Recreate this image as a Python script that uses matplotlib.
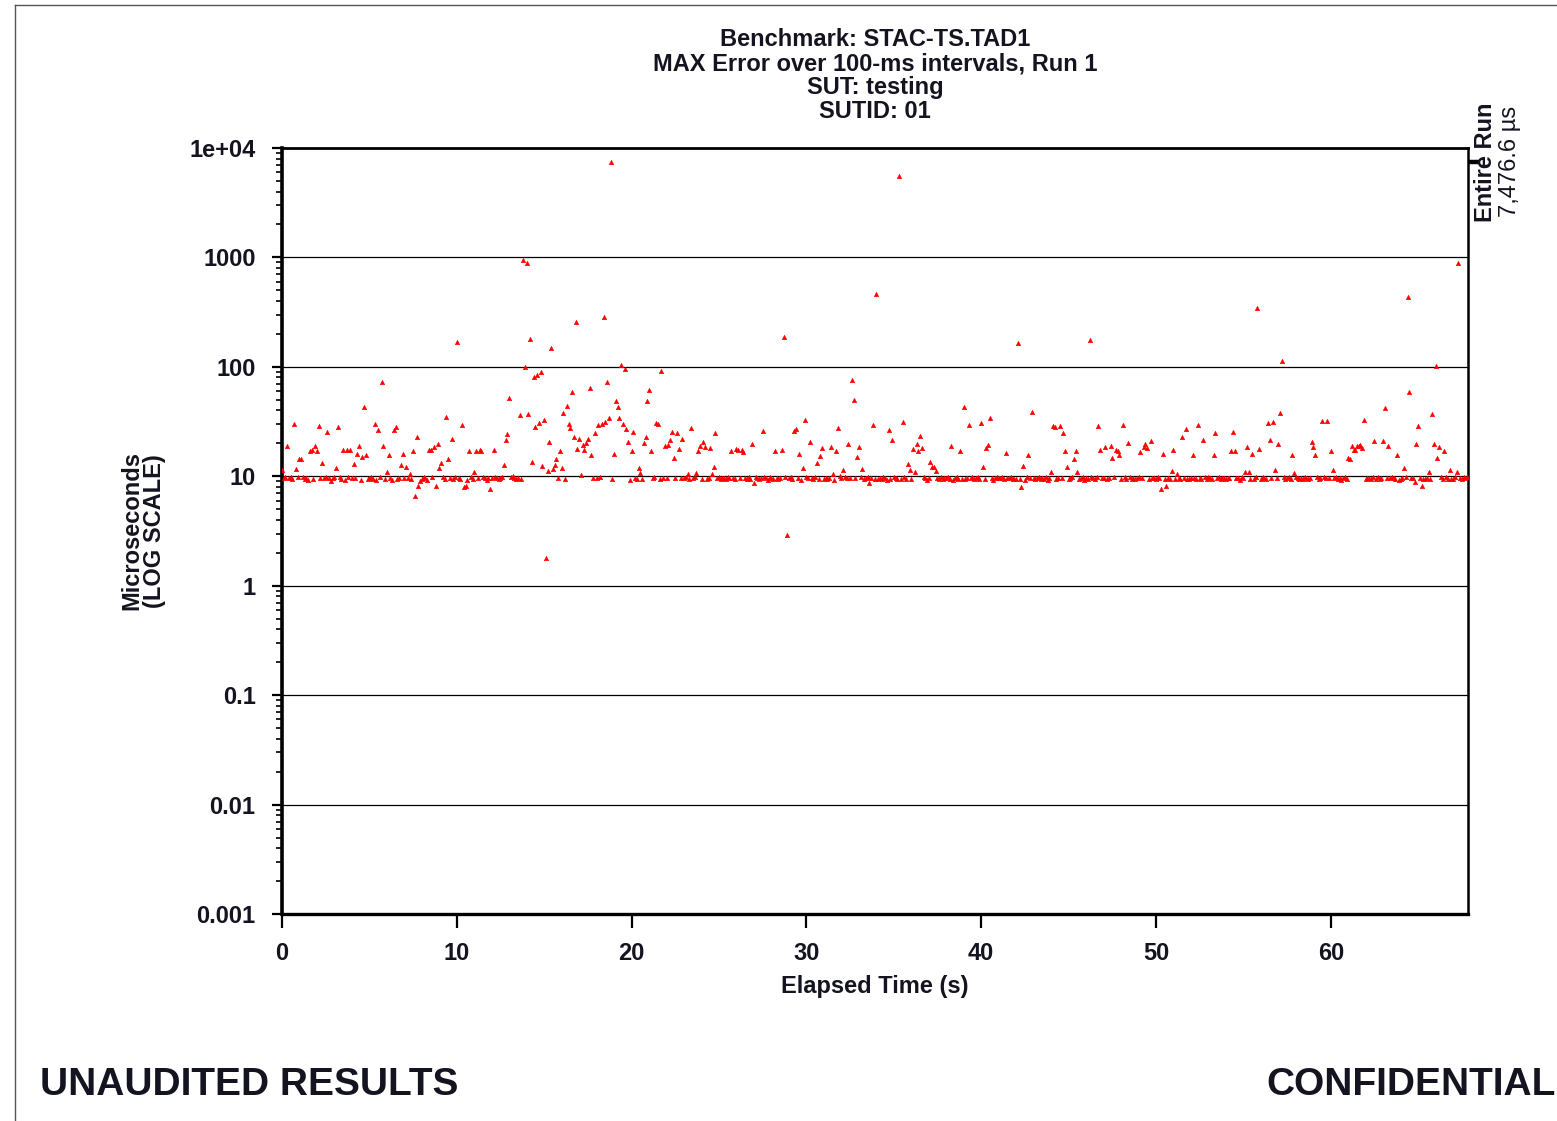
import numpy as np
import matplotlib
matplotlib.use("Agg")
import matplotlib.pyplot as plt
import matplotlib.transforms as mtransforms
from matplotlib.lines import Line2D
from matplotlib.ticker import FixedLocator, FixedFormatter, LogLocator, NullFormatter

plt.rcParams['font.family'] = ['Liberation Sans', 'DejaVu Sans']
plt.rcParams['font.weight'] = 'bold'

INK = "#141420"
INTERVAL_S = 0.1
N_INTERVALS = 679

# max error (us) of the ordinary 100-ms intervals, one row per second
base_err = [
    11.4, 9.6, 9.8, 9.4, 9.7, 9.9, 9.5, 9.3, 9.7, 9.8,
    9.6, 9.5, 9.9, 9.4, 9.7, 9.2, 9.6, 9.8, 9.5, 9.7,
    9.4, 9.9, 9.6, 9.3, 9.7, 9.8, 9.5, 9.6, 9.1, 9.7,
    9.8, 9.5, 9.6, 9.9, 9.4, 9.7, 9.3, 9.6, 9.8, 9.5,
    9.7, 9.4, 9.6, 9.9, 9.5, 9.2, 9.7, 9.6, 9.8, 9.4,
    9.6, 9.8, 9.5, 9.7, 9.3, 9.6, 9.9, 9.5, 9.7, 9.4,
    9.8, 9.5, 9.6, 9.2, 9.7, 9.9, 9.4, 9.6, 9.8, 9.5,
    9.7, 9.3, 9.6, 9.8, 9.5, 9.4, 9.7, 9.9, 9.6, 9.0,
    9.5, 9.8, 9.6, 9.3, 9.7, 9.5, 9.9, 9.4, 9.6, 9.7,
    9.4, 9.6, 9.8, 9.5, 9.7, 9.3, 9.6, 9.9, 9.5, 9.8,
    9.6, 9.7, 9.4, 9.8, 9.5, 9.6, 9.2, 9.7, 9.9, 9.5,
    9.8, 9.5, 9.6, 9.4, 9.7, 9.9, 9.6, 9.3, 9.7, 9.5,
    9.6, 9.4, 9.8, 9.7, 9.5, 9.6, 9.9, 9.4, 9.1, 9.7,
    9.5, 9.8, 9.6, 9.7, 9.4, 9.6, 9.8, 9.5, 9.7, 9.3,
    9.7, 9.5, 9.9, 9.6, 9.4, 9.8, 9.5, 9.7, 9.6, 9.4,
    9.6, 9.8, 9.5, 9.7, 9.3, 9.6, 9.9, 9.4, 9.7, 9.5,
    9.8, 9.6, 9.4, 9.7, 9.5, 9.9, 9.6, 9.3, 9.8, 9.5,
    9.5, 9.7, 9.6, 9.8, 9.4, 9.6, 9.5, 9.9, 9.7, 9.4,
    9.7, 9.4, 9.8, 9.5, 9.6, 9.3, 9.7, 9.6, 9.9, 9.5,
    9.6, 9.9, 9.5, 9.7, 9.4, 9.8, 9.6, 9.5, 9.7, 9.3,
    9.8, 9.5, 9.7, 9.4, 9.6, 9.9, 9.5, 9.6, 9.8, 9.4,
    9.5, 9.7, 9.6, 9.8, 9.3, 9.7, 9.5, 9.9, 9.6, 9.4,
    9.7, 9.6, 9.4, 9.8, 9.5, 9.6, 9.9, 9.5, 9.7, 9.3,
    9.6, 9.8, 9.5, 9.4, 9.7, 9.6, 9.8, 9.5, 9.2, 9.7,
    9.4, 9.6, 9.9, 9.5, 9.7, 9.8, 9.4, 9.6, 9.5, 9.7,
    9.8, 9.5, 9.6, 9.7, 9.4, 9.9, 9.6, 9.3, 9.7, 9.5,
    9.6, 9.4, 9.7, 9.5, 9.8, 9.6, 9.5, 9.9, 9.4, 9.7,
    9.5, 9.8, 9.6, 9.4, 9.7, 9.5, 9.9, 9.6, 9.3, 9.8,
    9.7, 9.5, 9.8, 9.6, 9.4, 9.7, 9.5, 9.6, 9.9, 9.4,
    9.6, 9.9, 9.4, 9.7, 9.5, 9.6, 9.8, 9.3, 9.7, 9.5,
    9.8, 9.6, 9.5, 9.7, 9.4, 9.8, 9.6, 9.5, 9.7, 9.9,
    9.5, 9.7, 9.4, 9.6, 9.8, 9.5, 9.3, 9.7, 9.6, 9.4,
    9.7, 9.5, 9.9, 9.6, 9.4, 9.7, 9.8, 9.5, 9.6, 9.3,
    9.4, 9.8, 9.6, 9.5, 9.7, 9.9, 9.5, 9.6, 9.8, 9.4,
    9.6, 9.5, 9.7, 9.4, 9.8, 9.6, 9.3, 9.7, 9.5, 9.9,
    9.8, 9.6, 9.4, 9.7, 9.5, 9.6, 9.9, 9.4, 9.7, 9.5,
    9.5, 9.7, 9.6, 9.9, 9.4, 9.5, 9.7, 9.8, 9.6, 9.3,
    9.7, 9.4, 9.8, 9.5, 9.6, 9.7, 9.5, 9.9, 9.4, 9.6,
    9.6, 9.9, 9.5, 9.7, 9.3, 9.6, 9.8, 9.5, 9.7, 9.4,
    9.8, 9.5, 9.6, 9.4, 9.7, 9.9, 9.5, 9.6, 9.8, 9.5,
    9.5, 9.7, 9.4, 9.6, 9.8, 9.5, 9.7, 9.3, 9.6, 9.9,
    9.7, 9.6, 9.8, 9.5, 9.4, 9.7, 9.6, 9.9, 9.5, 9.4,
    9.4, 9.8, 9.5, 9.7, 9.6, 9.3, 9.8, 9.5, 9.7, 9.6,
    9.6, 9.5, 9.7, 9.9, 9.4, 9.6, 9.5, 9.8, 9.3, 9.7,
    9.8, 9.4, 9.6, 9.5, 9.7, 9.8, 9.6, 9.4, 9.9, 9.5,
    9.5, 9.7, 9.9, 9.6, 9.4, 9.7, 9.5, 9.6, 9.8, 9.3,
    9.7, 9.5, 9.4, 9.8, 9.6, 9.5, 9.9, 9.7, 9.4, 9.6,
    9.6, 9.8, 9.5, 9.7, 9.3, 9.6, 9.8, 9.4, 9.7, 9.5,
    9.4, 9.6, 9.8, 9.5, 9.7, 9.9, 9.4, 9.6, 9.5, 9.7,
    9.8, 9.5, 9.7, 9.6, 9.4, 9.8, 9.5, 9.3, 9.7, 9.6,
    9.5, 9.9, 9.6, 9.4, 9.7, 9.5, 9.8, 9.6, 9.4, 9.7,
    9.7, 9.5, 9.8, 9.6, 9.5, 9.3, 9.6, 9.9, 9.5, 9.4,
    9.6, 9.4, 9.7, 9.5, 9.9, 9.6, 9.5, 9.7, 9.8, 9.4,
    9.8, 9.6, 9.5, 9.7, 9.4, 9.6, 9.9, 9.5, 9.6, 9.7,
    9.5, 9.7, 9.6, 9.4, 9.8, 9.5, 9.7, 9.6, 9.3, 9.9,
    9.7, 9.5, 9.9, 9.6, 9.4, 9.7, 9.5, 9.8, 9.6, 9.4,
    9.4, 9.8, 9.6, 9.5, 9.7, 9.4, 9.6, 9.9, 9.5, 9.7,
    9.6, 9.5, 9.7, 9.9, 9.4, 9.6, 9.8, 9.5, 9.7, 9.3,
    9.8, 9.6, 9.4, 9.7, 9.5, 9.8, 9.6, 9.4, 9.7, 9.5,
    9.5, 9.7, 9.8, 9.4, 9.6, 9.5, 9.9, 9.7, 9.4, 9.6,
    9.7, 9.4, 9.6, 9.8, 9.5, 9.7, 9.3, 9.6, 9.9, 9.5,
    9.6, 9.9, 9.5, 9.6, 9.7, 9.4, 9.8, 9.5, 9.6, 9.7,
    9.4, 9.6, 9.7, 9.5, 9.8, 9.6, 9.5, 9.9, 9.4, 9.7,
    9.8, 9.5, 9.6, 9.4, 9.7, 9.9, 9.6, 9.5, 9.7, 9.3,
    9.5, 9.7, 9.4, 9.8, 9.6, 9.5, 9.7, 9.6, 9.9, 9.4,
    9.7, 9.6, 9.8, 9.5, 9.4, 9.7, 9.6, 9.5, 9.8, 9.6,
    9.6, 9.4, 9.7, 9.9, 9.5, 9.6, 9.8, 9.4, 9.7, 9.5,
    9.5, 9.8, 9.6, 9.4, 9.7, 9.5, 9.9, 9.6, 9.8, 9.7,
]

# intervals that stand out from the ~10 us band (start time s, max error us)
spike_t = [
    0.3, 0.7, 0.8, 1.0, 1.1, 1.6, 1.7, 1.9, 2.0, 2.1, 2.3, 2.6, 3.1, 3.2, 3.5,
    3.7, 3.9, 4.1, 4.3, 4.4, 4.6, 4.7, 4.8, 5.3, 5.5, 5.7, 5.8, 6.0, 6.1, 6.4,
    6.5, 6.8, 6.9, 7.1, 7.3, 7.5, 7.6, 7.7, 7.8, 8.4, 8.5, 8.7, 8.8, 8.9, 9.0,
    9.1, 9.4, 9.5, 9.7, 10.0, 10.3, 10.4, 10.5, 10.7, 11.0, 11.1, 11.3, 11.4,
    11.9, 12.1, 12.7, 12.8, 12.9, 13.0, 13.2, 13.6, 13.8, 13.9, 14.0, 14.1,
    14.2, 14.3, 14.4, 14.5, 14.6, 14.7, 14.8, 14.9, 15.0, 15.1, 15.2, 15.3,
    15.4, 15.5, 15.6, 15.7, 15.9, 16.0, 16.1, 16.3, 16.4, 16.5, 16.6, 16.7,
    16.8, 16.9, 17.0, 17.1, 17.2, 17.3, 17.4, 17.5, 17.6, 17.7, 17.9, 18.1,
    18.3, 18.4, 18.5, 18.6, 18.7, 18.8, 19.0, 19.1, 19.2, 19.3, 19.4, 19.5,
    19.6, 19.7, 19.8, 20.0, 20.1, 20.4, 20.5, 20.7, 20.8, 20.9, 21.0, 21.1,
    21.4, 21.5, 21.7, 21.9, 22.1, 22.2, 22.3, 22.4, 22.6, 22.7,
    22.9, 23.2, 23.4, 23.7, 23.8, 23.9, 24.1, 24.2, 24.5, 24.6, 24.7, 24.8,
    25.7, 26.0, 26.1, 26.3, 26.4, 26.9, 27.0, 27.5, 28.2, 28.6, 28.7, 28.9,
    29.3, 29.4, 29.6, 29.8, 29.9, 30.2, 30.6, 30.8, 30.9, 31.4, 31.5, 31.7,
    31.8, 31.9, 32.1, 32.4, 32.6, 32.7, 32.9, 33.0, 33.2, 33.6, 33.8, 34.0,
    34.7, 34.9, 35.3, 35.5, 35.8, 35.9, 36.1, 36.2, 36.3, 36.4, 36.5, 36.6,
    37.1, 37.2, 37.3, 37.4, 38.3, 38.8, 39.0, 39.3, 40.0, 40.1, 40.3, 40.4,
    40.5, 41.4, 42.1, 42.3, 42.4, 42.7, 42.9, 44.0, 44.1, 44.2, 44.5, 44.7,
    44.8, 44.9, 45.3, 45.4, 45.5,
    46.2, 46.7, 46.8, 47.1, 47.4, 47.5, 47.7, 47.8, 47.9, 48.1, 48.4, 49.1,
    49.3, 49.4, 49.5, 49.7, 50.3, 50.4, 50.6, 50.9, 51.0, 51.2, 51.5, 51.7,
    52.1, 52.4, 52.7, 53.3, 53.4, 54.3, 54.4, 54.5, 55.1, 55.2, 55.3, 55.5,
    55.8, 55.9, 56.4, 56.5, 56.7, 56.8, 57.0, 57.1, 57.2,
    57.8, 57.9, 58.9, 59.0, 59.1, 59.5, 59.8, 60.0, 60.1, 61.0, 61.1, 61.2,
    61.3, 61.4, 61.5, 61.6, 61.7, 61.8, 61.9, 62.5, 63.0, 63.1, 63.3, 63.8,
    64.2, 64.4, 64.5, 64.8, 64.9, 65.0, 65.2, 65.6, 65.8, 65.9, 66.0, 66.1,
    66.2, 66.5, 66.8, 67.2, 67.3,
]
spike_us = [
    18.9, 30, 11.6, 14.5, 14.5, 17.1, 17.3, 18.9, 17.1, 29, 13.3, 25.5, 12.0, 28, 17.3,
    17.3, 17.3, 12.9, 16.0, 19, 15.1, 43, 15.5, 30, 26.5, 73, 19, 11.0, 15.6, 26.5,
    28, 12.7, 15.9, 12.2, 10.6, 17.1, 6.6, 23, 8.2, 17.3, 17.5, 18.4, 8.2, 19.6, 11.9,
    13.3, 34.8, 14.4, 22, 168, 29.5, 8.0, 8.2, 17.1, 11.0, 17.1, 17.3, 17.2,
    7.7, 17.3, 12.8, 21.3, 24.5, 52, 10.1, 36.6, 942, 99, 896, 37.3,
    181, 13.6, 80, 28.2, 85, 30.9, 90, 12.3, 32.5, 1.8, 11.2, 20.7,
    150, 11.6, 12.8, 14.3, 17, 12, 37.6, 44, 30, 27.8, 59, 22.7,
    257, 17.9, 21.8, 10.2, 19.2, 17.3, 20.2, 22, 64.5, 15.8, 24.8, 29.5,
    29.9, 286, 31.3, 73, 34, 7476.6, 16, 48.5, 43, 34, 103, 30,
    95, 26.9, 20.7, 17.1, 25.3, 12, 10.8, 20.3, 22.7, 48.5, 61.4, 17.1,
    30.9, 30, 92, 18.9, 19.3, 21.3, 25.4, 14.6, 24.7, 17.6,
    22, 10.6, 27.5, 10.8, 17.1, 18.8, 20.7, 18.5, 18, 10.4, 12.1, 25,
    17.1, 17.7, 17.5, 17.5, 16.6, 19.9, 8.6, 26, 17.1, 17.5, 189, 2.9,
    26.1, 27.2, 15.9, 11.9, 33, 20.6, 13.1, 15.2, 18, 18.4, 10.6, 17.1,
    27.7, 10.1, 11.3, 19.8, 76, 49.8, 15.1, 18.6, 11.6, 8.7, 29.5, 467,
    26.5, 21.5, 5600, 31.5, 12.9, 11.5, 17.7, 10.9, 19.9, 17.1, 23.5, 18.3,
    13.4, 12.2, 12.2, 11.2, 19, 17.1, 43.3, 29.5, 30.9, 12.1, 18.3, 19.3,
    34, 16.2, 166, 8.0, 12.4, 15.6, 39, 11, 29, 28.4, 28.8, 24.9,
    17.1, 12.2, 14.3, 17.1, 11,
    176, 28.8, 17.4, 18.4, 19, 14.6, 17.4, 17, 15.6, 29.2, 20.3, 16.7,
    18.4, 19.6, 18, 20.9, 7.6, 16, 8.1, 11.2, 17.5, 10.4, 23, 27,
    15.8, 29.5, 21.5, 15.8, 24.7, 17.1, 25.4, 17.1, 11, 18.6, 11, 16,
    343, 17.6, 30.5, 21.6, 31.5, 11.4, 19.9, 37.7, 112,
    15.6, 10.8, 20.7, 18.4, 15.6, 32, 32, 17.1, 11.5, 14.6, 14.3, 18.9,
    17.4, 17.5, 18.8, 19.0, 19.4, 18.0, 33, 21, 21, 42, 18.9, 15.8,
    12, 438, 59, 8.9, 19.8, 28.8, 8.2, 10.9, 37, 19.9, 101, 14.8,
    18.5, 17, 11.3, 10.9, 897,
]

entire_run_max = 7476.6

title_lines = ["Benchmark: STAC-TS.TAD1",
               "MAX Error over 100-ms intervals, Run 1",
               "SUT: testing",
               "SUTID: 01"]
y_ticks = [1e-3, 1e-2, 1e-1, 1, 10, 100, 1000, 1e4]
y_labels = ["0.001", "0.01", "0.1", "1", "10", "100", "1000", "1e+04"]
x_ticks = [0, 10, 20, 30, 40, 50, 60]

# assemble the series
err = np.array(base_err[:N_INTERVALS], dtype=float)
t = np.arange(N_INTERVALS) * INTERVAL_S
idx = np.rint(np.array(spike_t) / INTERVAL_S).astype(int)
err[idx] = spike_us

W, H = 1557, 1121
fig = plt.figure(figsize=(W / 100, H / 100), dpi=100)
ax = fig.add_axes([282 / W, 1 - 914 / H, (1468 - 282) / W, (914 - 148) / H])

ax.plot(t, err, linestyle='none', marker='^', markersize=3.2,
        color='red', markeredgecolor='red', markeredgewidth=0.4, zorder=3)

ax.set_yscale('log')
ax.set_ylim(1e-3, 1e4)
ax.set_xlim(0, 67.85)

ax.yaxis.set_major_locator(FixedLocator(y_ticks))
ax.yaxis.set_major_formatter(FixedFormatter(y_labels))
ax.yaxis.set_minor_locator(LogLocator(base=10, subs=np.arange(2, 10), numticks=20))
ax.yaxis.set_minor_formatter(NullFormatter())
ax.set_xticks(x_ticks)

ax.yaxis.grid(True, which='major', color='black', linewidth=0.9, zorder=1)
ax.set_axisbelow(True)

for side, lw in [('left', 2.6), ('bottom', 2.4), ('top', 2.0), ('right', 1.8)]:
    ax.spines[side].set_linewidth(lw)
    ax.spines[side].set_color('black')

ax.tick_params(axis='y', which='major', direction='out', length=7, width=1.6,
               pad=12, labelsize=17, labelcolor=INK)
ax.tick_params(axis='y', which='minor', direction='out', length=4.5, width=1.2)
ax.tick_params(axis='x', which='major', direction='out', length=10, width=1.6,
               pad=10, labelsize=17, labelcolor=INK)
ax.tick_params(axis='x', which='minor', bottom=False)

# titles and axis labels
for i, line in enumerate(title_lines):
    fig.text(875 / W, 1 - (40 + 23.7 * i) / H, line, ha='center', va='center',
             fontsize=17, color=INK)
fig.text(875 / W, 1 - 986 / H, "Elapsed Time (s)", ha='center', va='center',
         fontsize=17, color=INK)
fig.text(143 / W, 1 - 531 / H, "Microseconds\n(LOG SCALE)", ha='center', va='center',
         rotation=90, fontsize=17, color=INK, linespacing=1.0)

# entire-run maximum marker on the right edge
trans = mtransforms.blended_transform_factory(ax.transAxes, ax.transData)
ax.plot([1.0, 1.0 + 12 / (1468 - 282)], [entire_run_max, entire_run_max],
        color='black', linewidth=3.2, transform=trans, clip_on=False, solid_capstyle='butt')
ax.text(1.0 + 17 / (1468 - 282), entire_run_max, "Entire Run", transform=trans,
        rotation=90, ha='center', va='center', fontsize=17, color=INK)
ax.text(1.0 + 42 / (1468 - 282), entire_run_max, "7,476.6 µs", transform=trans,
        rotation=90, ha='center', va='center', fontsize=17, fontweight='normal', color=INK)

# page footer and frame
fig.text(40 / W, 1 - 1085 / H, "UNAUDITED RESULTS", ha='left', va='center',
         fontsize=28, color=INK)
fig.text(1556 / W, 1 - 1085 / H, "CONFIDENTIAL", ha='right', va='center',
         fontsize=28, color=INK)
fig.add_artist(Line2D([15 / W, 1.0], [1 - 5 / H, 1 - 5 / H], color='#555555', linewidth=1.0))
fig.add_artist(Line2D([15 / W, 15 / W], [0, 1 - 5 / H], color='#555555', linewidth=1.0))

fig.savefig("out.png", dpi=100, facecolor='white')
